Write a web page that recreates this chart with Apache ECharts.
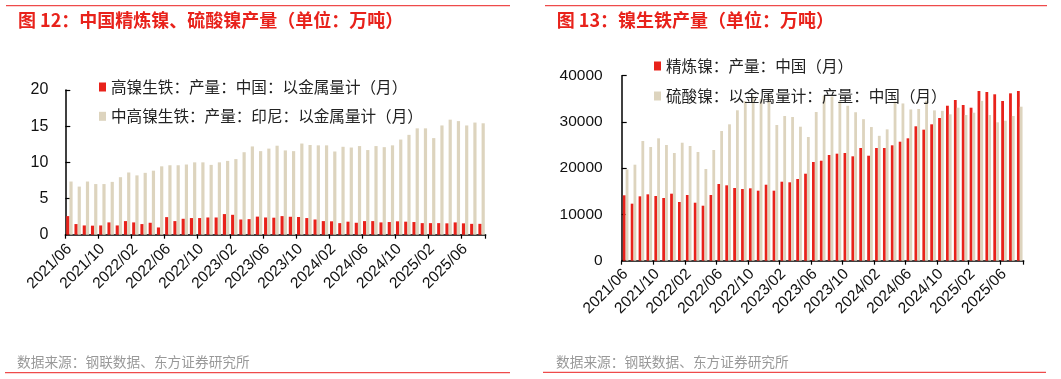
<!DOCTYPE html>
<html><head><meta charset="utf-8">
<script src="https://cdn.jsdelivr.net/npm/echarts@6/dist/echarts.min.js"></script>
<style>html,body{margin:0;padding:0;background:#fff;}#c{width:1061px;height:379px;}</style>
</head><body><div id="c"></div>
<script>
const months = ['2021/06','2021/07','2021/08','2021/09','2021/10','2021/11','2021/12',
'2022/01','2022/02','2022/03','2022/04','2022/05','2022/06','2022/07','2022/08','2022/09','2022/10','2022/11','2022/12',
'2023/01','2023/02','2023/03','2023/04','2023/05','2023/06','2023/07','2023/08','2023/09','2023/10','2023/11','2023/12',
'2024/01','2024/02','2024/03','2024/04','2024/05','2024/06','2024/07','2024/08','2024/09','2024/10','2024/11','2024/12',
'2025/01','2025/02','2025/03','2025/04','2025/05','2025/06','2025/07','2025/08'];

// Left chart (万吨)
const highNiPigChina = [2.57,1.47,1.28,1.25,1.28,1.7,1.28,1.88,1.7,1.47,1.65,1.0,2.43,1.88,2.2,2.3,2.3,2.38,2.38,2.85,2.75,2.1,2.15,2.5,2.38,
2.35,2.57,2.48,2.45,2.3,2.1,1.88,1.85,1.6,1.8,1.65,1.88,1.88,1.7,1.75,1.85,1.8,1.75,1.6,1.6,1.6,1.57,1.7,1.57,1.5,1.5];
const midHighNiPigIndonesia = [7.35,6.65,7.35,7.0,7.0,7.3,7.95,8.6,8.2,8.55,8.85,9.45,9.6,9.6,9.7,10.0,10.0,9.65,10.0,10.2,10.45,11.4,12.2,11.55,11.9,
12.3,11.65,11.55,12.6,12.4,12.35,12.35,11.5,12.15,12.05,12.25,11.7,12.25,12.1,12.35,13.15,13.8,14.7,14.7,13.35,15.1,15.9,15.7,15.1,15.5,15.4];

// Right chart
const refinedNiChina = [14140,12330,13920,14350,13990,13560,14490,12690,14210,12540,11890,14210,16580,16300,15720,15500,15650,15140,16430,15140,
17080,16950,17670,18810,21340,21620,22850,23140,23290,22570,24370,22700,24370,24370,24950,25730,26460,29060,28330,29490,30850,
33510,34750,33660,33080,36690,36480,35980,34530,36190,36690];
const nickelSulfateChina = [19760,20760,25880,24580,26460,25020,23290,25510,24800,23500,19830,23940,28040,29490,32520,34500,35500,35000,35500,
29340,31290,31070,28970,26750,32150,35700,35500,34500,33500,32100,30600,28900,27000,28400,34400,34000,32700,32800,34600,32500,32400,
31650,33080,31500,32000,34550,31500,29920,30270,31290,33300];

const leftNames = ['高镍生铁：产量：中国：以金属量计（月）','中高镍生铁：产量：印尼：以金属量计（月）'];
const rightNames = ['精炼镍：产量：中国（月）','硫酸镍：以金属量计：产量：中国（月）'];
const titles = ['图 12：中国精炼镍、硫酸镍产量（单位：万吨）','图 13：镍生铁产量（单位：万吨）'];
const source = '数据来源：钢联数据、东方证券研究所';

const RED = '#E8221B', BEIGE = '#DDD4BE';
const NUMFONT = '"Liberation Sans", Arial, "Noto Sans CJK SC", sans-serif';
const CJK = '"Noto Sans CJK SC", "Liberation Sans", sans-serif';

function xAxis(gi){
  return {type:'category', gridIndex:gi, data:months, boundaryGap:true,
    axisLine:{show:true, lineStyle:{color:'#000', width:1.5}},
    axisTick:{show:true, interval:3, length:4, inside:false, lineStyle:{color:'#000', width:1.2}},
    axisLabel:{interval:3, rotate:45, margin:gi===0?12:11, color:'#111', fontSize:15.5, fontFamily:NUMFONT},
    splitLine:{show:false}};
}
function yAxis(gi, max, interval, margin, fs){
  return {type:'value', gridIndex:gi, min:0, max:max, interval:interval,
    axisLine:{show:true, lineStyle:{color:'#000', width:1.5}},
    axisTick:{show:true, inside:true, length:5, lineStyle:{color:'#000', width:1.2}},
    axisLabel:{margin:margin, color:'#111', fontSize:fs, fontFamily:NUMFONT, formatter:function(v){return String(v);}},
    splitLine:{show:false}};
}
const legendText = {color:'#222', fontSize:15.6, fontFamily:CJK, lineHeight:16};

const chart = echarts.init(document.getElementById('c'), null, {renderer:'canvas'});
chart.setOption({
  animation:false,
  backgroundColor:'#fff',
  grid:[
    {left:65.3, top:90, width:420.4, height:144.7, containLabel:false},
    {left:621.7, top:75.7, width:402, height:185, containLabel:false}
  ],
  xAxis:[xAxis(0), xAxis(1)],
  yAxis:[yAxis(0,20,5,17,16), yAxis(1,40000,10000,19,15.5)],
  legend:[
    {orient:'vertical', left:99, top:79, padding:0, itemGap:13.3, itemWidth:7, itemHeight:9, icon:'rect',
     data:leftNames, textStyle:legendText, selectedMode:false},
    {orient:'vertical', left:654, top:58, padding:0, itemGap:14, itemWidth:7, itemHeight:9, icon:'rect',
     data:rightNames, textStyle:legendText, selectedMode:false}
  ],
  series:[
    {type:'bar', name:leftNames[0], xAxisIndex:0, yAxisIndex:0, data:highNiPigChina, barWidth:3.2, barGap:'0%', itemStyle:{color:RED}},
    {type:'bar', name:leftNames[1], xAxisIndex:0, yAxisIndex:0, data:midHighNiPigIndonesia, barWidth:3.2, barGap:'0%', itemStyle:{color:BEIGE}},
    {type:'bar', name:rightNames[0], xAxisIndex:1, yAxisIndex:1, data:refinedNiChina, barWidth:2.8, barGap:'0%', itemStyle:{color:RED}},
    {type:'bar', name:rightNames[1], xAxisIndex:1, yAxisIndex:1, data:nickelSulfateChina, barWidth:2.8, barGap:'0%', itemStyle:{color:BEIGE}}
  ],
  graphic:[
    {type:'line', shape:{x1:6,y1:5.7,x2:510,y2:5.7}, style:{stroke:'#EE4B4B', lineWidth:1.3}},
    {type:'line', shape:{x1:545,y1:5.7,x2:1047,y2:5.7}, style:{stroke:'#EE4B4B', lineWidth:1.3}},
    {type:'line', shape:{x1:5,y1:372.7,x2:510,y2:372.7}, style:{stroke:'#EE4B4B', lineWidth:1.3}},
    {type:'line', shape:{x1:543,y1:372.3,x2:1046,y2:372.3}, style:{stroke:'#EE4B4B', lineWidth:1.3}},
    {type:'text', x:18, y:20, style:{text:titles[0], fill:'#E8221B', font:'bold 18px '+CJK, verticalAlign:'middle'}},
    {type:'text', x:556.7, y:20, style:{text:titles[1], fill:'#E8221B', font:'bold 18px '+CJK, verticalAlign:'middle'}},
    {type:'text', x:17, y:361.7, style:{text:source, fill:'#999', font:'13.7px '+CJK, verticalAlign:'middle'}},
    {type:'text', x:556, y:361.5, style:{text:source, fill:'#999', font:'13.7px '+CJK, verticalAlign:'middle'}}
  ]
});
</script>
</body></html>
